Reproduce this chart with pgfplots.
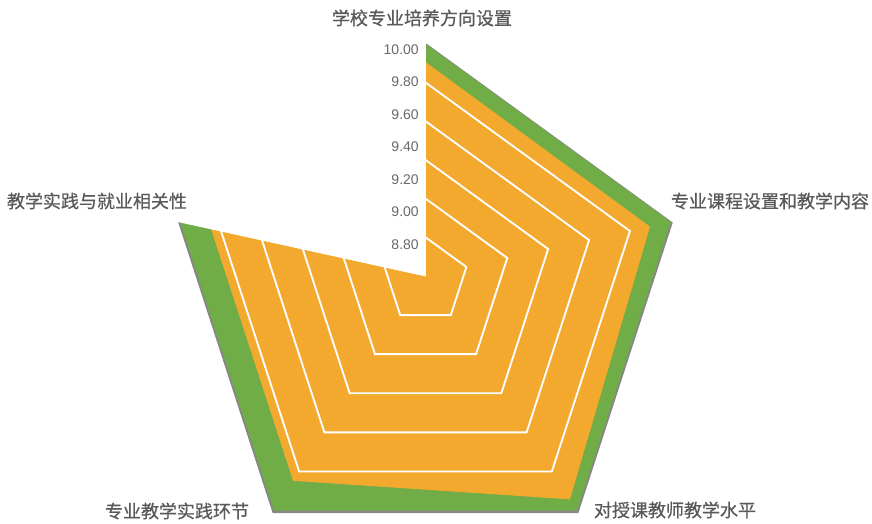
\documentclass[border=0pt]{standalone}
\usepackage{pgfplots}
\pgfplotsset{compat=1.18}
\usepackage{pgfplotstable}
\usepackage{fontspec}
\setmainfont{Liberation Sans}
\newfontfamily\cjk{Noto Sans CJK SC}[FakeBold=0.7]

\definecolor{sgreen}{HTML}{70AD47}
\definecolor{sorange}{RGB}{243,169,46}
\definecolor{shadowgray}{RGB}{135,135,135}
\definecolor{labelgray}{HTML}{595959}
\definecolor{tickgray}{RGB}{105,105,105}

% angle of each category spoke, last row closes the polygon
\pgfplotstableread{
a     green  orange  blank
90    10.0   9.906   10.03
18    10.0   9.898   8.8
-54   10.0   9.943   8.8
-126  10.0   9.848   8.8
162   10.0   9.849   10.03
90    10.0   9.906   10.03
}\scores

\pgfplotstableread{
a     g1   g2   g3   g4   g5
90    9.0  9.2  9.4  9.6  9.8
18    9.0  9.2  9.4  9.6  9.8
-54   9.0  9.2  9.4  9.6  9.8
-126  9.0  9.2  9.4  9.6  9.8
162   9.0  9.2  9.4  9.6  9.8
90    9.0  9.2  9.4  9.6  9.8
}\rings

% radar mapping: centre = 8.8, 0.2 per ring
\newcommand{\rx}[1]{425.5+(\thisrow{#1}-8.8)*215*cos(\thisrow{a})}
\newcommand{\ry}[1]{248-21.5*(\thisrow{#1}-8.8)+215*(\thisrow{#1}-8.8)*sin(\thisrow{a})}

\begin{document}
\begin{tikzpicture}
\begin{axis}[
    width=654pt, height=393pt,
    scale only axis,
    xmin=0, xmax=872, ymin=0, ymax=524,
    hide axis,
    clip=false,
]
\path (axis cs:0,0) rectangle (axis cs:872,524);

% shadow and series
\addplot[draw=shadowgray, line width=2.4pt, fill=shadowgray, line join=miter, yshift=-0.8pt]
  table[x expr={\rx{green}}, y expr={\ry{green}}] {\scores};
\addplot[draw=none, fill=sgreen]
  table[x expr={\rx{green}}, y expr={\ry{green}}] {\scores};
\addplot[draw=none, fill=sorange]
  table[x expr={\rx{orange}}, y expr={\ry{orange}}] {\scores};

% gridlines
\addplot[white, line width=1.4pt] table[x expr={\rx{g1}}, y expr={\ry{g1}}] {\rings};
\addplot[white, line width=1.4pt] table[x expr={\rx{g2}}, y expr={\ry{g2}}] {\rings};
\addplot[white, line width=1.4pt] table[x expr={\rx{g3}}, y expr={\ry{g3}}] {\rings};
\addplot[white, line width=1.4pt] table[x expr={\rx{g4}}, y expr={\ry{g4}}] {\rings};
\addplot[white, line width=1.4pt] table[x expr={\rx{g5}}, y expr={\ry{g5}}] {\rings};

% white series
\addplot[draw=white, line width=0.6pt, fill=white]
  table[x expr={\rx{blank}}, y expr={\ry{blank}}] {\scores};

% radial tick labels
\begin{scope}[every node/.style={anchor=east, font=\fontsize{10.5}{12}\selectfont, text=tickgray, inner sep=0pt}]
\node at (axis cs:419,474) {10.00};
\node at (axis cs:419,442) {9.80};
\node at (axis cs:419,409) {9.60};
\node at (axis cs:419,377) {9.40};
\node at (axis cs:419,344) {9.20};
\node at (axis cs:419,312) {9.00};
\node at (axis cs:419,279) {8.80};
\end{scope}

% category labels
\begin{scope}[every node/.style={font=\cjk\fontsize{13.5}{16}\selectfont, text=labelgray, inner sep=0pt}]
\node at (axis cs:422,506) {学校专业培养方向设置};
\node at (axis cs:770,323) {专业课程设置和教学内容};
\node at (axis cs:675,14) {对授课教师教学水平};
\node at (axis cs:177,13) {专业教学实践环节};
\node at (axis cs:97,323) {教学实践与就业相关性};
\end{scope}
\end{axis}
\end{tikzpicture}
\end{document}
